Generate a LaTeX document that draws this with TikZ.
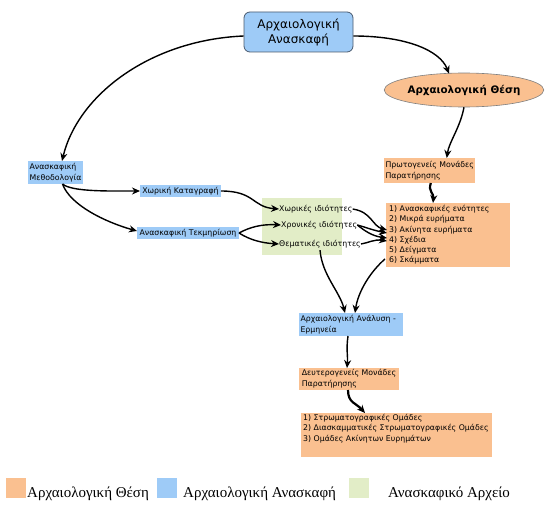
\documentclass[tikz,border=0pt]{standalone}
\usepackage{fontspec}
\setmainfont{DejaVu Sans}
\newfontfamily\legfont{Liberation Serif}
\usetikzlibrary{arrows.meta,calc,shapes.geometric}
\definecolor{peach}{HTML}{FAC090}
\definecolor{skyb}{HTML}{9ECBF7}
\definecolor{paleg}{HTML}{E2EDC7}
\definecolor{bordgray}{HTML}{4A5A6E}
\begin{document}
\begin{tikzpicture}[x=1pt,y=-1pt,
  sbox/.style={anchor=north west, inner xsep=1.5pt, inner ysep=0pt, outer sep=0pt,
    font=\fontsize{7.8}{11}\selectfont, align=left},
  bluebox/.style={sbox, fill=skyb},
  peachbox/.style={sbox, fill=peach},
  plainbox/.style={anchor=north west, inner sep=0pt, outer sep=0pt},
  itemtxt/.style={anchor=west, inner sep=0pt, font=\fontsize{7.8}{10}\selectfont},
  listtxt/.style={anchor=north west, inner sep=0pt, align=left, font=\fontsize{7.8}{10.3}\selectfont},
  conn/.style={-{Stealth[length=8pt,width=7pt]}, line width=1.4pt, black},
  thickconn/.style={conn, line width=2.2pt},
  legsq/.style={anchor=north west, inner sep=0pt, minimum width=20pt, minimum height=20pt},
  legtxt/.style={anchor=base west, inner sep=0pt, font=\legfont\fontsize{15}{16}\selectfont}
]
\useasboundingbox (0,0) rectangle (545,508);

% main nodes
\node[draw=bordgray, line width=0.8pt, fill=skyb, rounded corners=6pt, minimum width=109pt,
  minimum height=40pt, align=center, inner sep=0pt, font=\fontsize{12}{15}\selectfont]
  (top) at (298.5,32) {Αρχαιολογική\\Ανασκαφή};
\node[ellipse, draw=gray, line width=0.6pt, fill=peach, minimum width=115pt, minimum height=34pt,
  inner sep=0pt, font=\bfseries\fontsize{10.3}{12}\selectfont] (thesi) at (464,90) {Αρχαιολογική Θέση};

\node[bluebox, minimum width=55pt, minimum height=23pt] (meth) at (28,161) {Ανασκαφική\\Μεθοδολογία};
\node[bluebox, minimum width=81pt, minimum height=12pt] (xk) at (140,185) {Χωρική Καταγραφή};
\node[bluebox, minimum width=102pt, minimum height=12pt] (tek) at (137,227) {Ανασκαφική Τεκμηρίωση};

\node[plainbox, fill=paleg, minimum width=80pt, minimum height=57pt] (green) at (262,198) {};
\node[itemtxt] (xi) at (279,209) {Χωρικές ιδιότητες};
\node[itemtxt] (xr) at (281,225) {Χρονικές ιδιότητες};
\node[itemtxt] (th) at (279,244) {Θεματικές ιδιότητες};

\node[peachbox, minimum width=89pt, minimum height=25pt] (prot) at (384,158) {Πρωτογενείς Μονάδες\\Παρατήρησης};
\node[plainbox, fill=peach, minimum width=124pt, minimum height=64pt] (lbox) at (386,203) {};
\node[listtxt] (ltxt) at (389,205) {1) Ανασκαφικές ενότητες\\2) Μικρά ευρήματα\\3) Ακίνητα ευρήματα\\4) Σχέδια\\5) Δείγματα\\6) Σκάμματα};

\node[bluebox, minimum width=104pt, minimum height=23pt, text width=101pt] (anal) at (299,313) {Αρχαιολογική Ανάλυση -\\Ερμηνεία};
\node[peachbox, minimum width=100pt, minimum height=22pt] (deut) at (299,368) {Δευτερογενείς Μονάδες\\Παρατήρησης};
\node[plainbox, fill=peach, minimum width=191pt, minimum height=44pt] (bbox) at (301,413) {};
\node[listtxt] (btxt) at (303,414) {1) Στρωματογραφικές Ομάδες\\2) Διασκαμματικές Στρωματογραφικές Ομάδες\\3) Ομάδες Ακίνητων Ευρημάτων};

% connectors
\draw[conn] ($(top.west)+(0,4)$) .. controls (150,40) and (78,95) .. ($(meth.north)+(6.5,0)$);
\draw[conn] ($(top.east)+(0,4)$) .. controls (405,36) and (440,50) .. ($(thesi.north)+(-15,1)$);
\draw[conn] (thesi.south) .. controls (460,128) and (449,142) .. ($(prot.north)+(17,0)$);
\draw[thickconn] ($(prot.south)+(1,0)$) .. controls (428,192) and (434,193) .. ($(lbox.north west)+(47,0)$);

\draw[conn] ($(meth.south)+(7,0)$) .. controls (72,192) and (110,191) .. (xk.west);
\draw[conn] ($(meth.south)+(7,0)$) .. controls (70,205) and (105,222) .. ($(tek.west)+(0,-2)$);
\draw[conn] (xk.east) .. controls (255,191) and (252,207) .. (xi.west);
\draw[conn] (tek.east) .. controls (250,227) and (262,224) .. (xr.west);
\draw[conn] (tek.east) .. controls (250,240) and (262,243) .. (th.west);

\draw[conn] (xi.east) .. controls (372,212) and (372,226) .. ($(lbox.north west)+(1,27)$);
\draw[conn] (xr.east) .. controls (365,227) and (372,230) .. ($(lbox.north west)+(1,30)$);
\draw[conn] (xr.east) .. controls (365,231) and (372,236) .. ($(lbox.north west)+(1,35)$);
\draw[conn] (th.east) .. controls (368,243) and (374,239) .. ($(lbox.north west)+(1,38)$);

\draw[conn] ($(th.south)+(0,2)$) .. controls (322,275) and (340,292) .. ($(anal.north)+(-6,0)$);
\draw[conn] ($(lbox.north west)+(-1,56)$) .. controls (370,272) and (358,292) .. ($(anal.north)+(4,0)$);
\draw[conn] ($(anal.south)+(-3,0)$) .. controls (346,350) and (348,355) .. ($(deut.north)+(-2,0)$);
\draw[thickconn] ($(deut.south)+(-1,0)$) .. controls (348,403) and (356,403) .. ($(bbox.north west)+(64,0)$);

% legend
\node[legsq, fill=peach] (lq1) at (6,478) {};
\node[legtxt] (lt1) at (27,497) {Αρχαιολογική Θέση};
\node[legsq, fill=skyb] (lq2) at (157,478) {};
\node[legtxt] (lt2) at (183,497) {Αρχαιολογική Ανασκαφή};
\node[legsq, fill=paleg] (lq3) at (349,478) {};
\node[legtxt] (lt3) at (388,497) {Ανασκαφικό Αρχείο};
\end{tikzpicture}
\end{document}
